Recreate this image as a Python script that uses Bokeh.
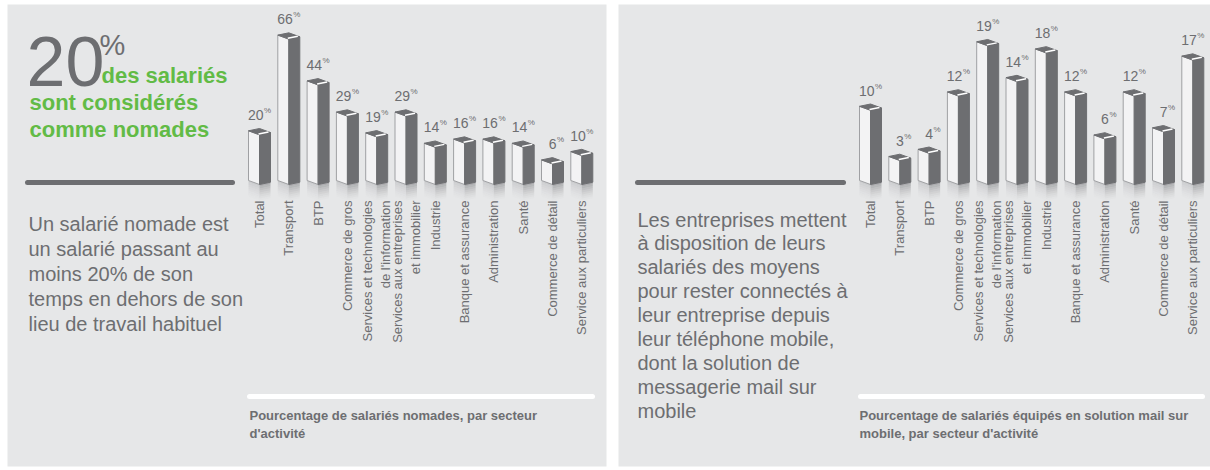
import numpy as np
from bokeh.plotting import figure
from bokeh.models import Range1d
from bokeh.core.properties import value
from bokeh.embed import file_html
from bokeh.resources import INLINE

# ---------------- data ----------------
categories = ["Total", "Transport", "BTP", "Commerce de gros",
              "Services et technologies\nde l'information",
              "Services aux entreprises\net immobilier",
              "Industrie", "Banque et assurance", "Administration", "Santé",
              "Commerce de détail", "Service aux particuliers"]
nomades_values = [20, 66, 44, 29, 19, 29, 14, 16, 16, 14, 6, 10]
mail_values = [10, 3, 4, 12, 19, 14, 18, 12, 6, 12, 7, 17]

headline_number = "20"
headline_unit = "%"
headline_lines = ["des salariés", "sont considérés", "comme nomades"]
left_paragraph = ["Un salarié nomade est", "un salarié passant au", "moins 20% de son",
                  "temps en dehors de son", "lieu de travail habituel"]
right_paragraph = ["Les entreprises mettent", "à disposition de leurs", "salariés des moyens",
                   "pour rester connectés à", "leur entreprise depuis", "leur téléphone mobile,",
                   "dont la solution de", "messagerie mail sur", "mobile"]
left_caption = ["Pourcentage de salariés nomades, par secteur", "d'activité"]
right_caption = ["Pourcentage de salariés équipés en solution mail sur",
                 "mobile, par secteur d'activité"]

# ---------------- style ----------------
FONT = value("Liberation Sans")
GRAY_TXT = "#6d6e71"
BAR_DARK = "#6d6e71"
BAR_FACE = "#f3f3f4"
PANEL = "#e6e7e8"
GREEN = "#62bb46"

X0, X1 = 0, 1210          # page pixels covered by the figure
Y_TOP, Y_BOT = 0, 470
PITCH = 29.3              # px between bars
BASE_PX = 183.0

p = figure(width=X1 - X0, height=Y_BOT - Y_TOP, output_backend="svg",
           toolbar_location=None, min_border=0,
           x_range=Range1d(X0, X1), y_range=Range1d(Y_BOT, Y_TOP),
           x_axis_location=None, y_axis_location=None)
p.grid.grid_line_color = None
p.outline_line_color = None
p.background_fill_color = "white"
p.border_fill_color = "white"

# panels
p.quad(left=[7, 618], right=[606, 1212], top=[4, 4], bottom=[466, 466],
       fill_color=PANEL, line_color=None)


def txt(x, base, t, size, color=GRAY_TXT, style="normal", align="left"):
    # base = alphabetic baseline in page px; text is anchored at its middle
    y = [b - 0.35 * size for b in base]
    p.text(x=x, y=y, text=t, text_font=FONT, text_font_size=f"{size}px",
           text_color=color, text_font_style=style, text_align=align,
           text_baseline="middle")


# ---------- left text block ----------
txt([26], [85], [headline_number], 70)
txt([99], [55], [headline_unit], 29)
txt([101, 29, 29], [83, 110, 137], headline_lines, 22, GREEN, "bold")
p.segment(x0=[27, 637], y0=[182, 182], x1=[232, 843], y1=[182, 182],
          line_color=BAR_DARK, line_width=5, line_cap="round")
txt([28] * len(left_paragraph), [230 + 25.0 * j for j in range(len(left_paragraph))],
    left_paragraph, 20)
txt([637] * len(right_paragraph), [226 + 23.9 * j for j in range(len(right_paragraph))],
    right_paragraph, 20)

# captions + white rules
p.segment(x0=[249, 860], y0=[396, 396], x1=[592, 1202], y1=[396, 396],
          line_color="white", line_width=5, line_cap="round")
txt([249, 249], [420, 438], left_caption, 13, style="bold")
txt([859, 859], [420, 438], right_caption, 13, style="bold")


# ---------- bar charts ----------
def add_chart(key, cats, vals, c0, k, off):
    n = len(cats)
    idx = np.arange(n, dtype=float)
    v = np.asarray(vals, dtype=float)
    v0 = -off / k
    xr, yr = key + "x", key + "y"
    p.extra_x_ranges[xr] = Range1d((X0 - c0) / PITCH, (X1 - c0) / PITCH)
    p.extra_y_ranges[yr] = Range1d(v0 - (Y_BOT - BASE_PX) / k, v0 + (BASE_PX - Y_TOP) / k)

    def X(d):
        return idx + d / PITCH

    def Yt(d):   # d px below the top of each bar
        return v - d / k

    def Yb(d):   # d px below the base
        return np.full(n, v0 - d / k)

    def polys(pts):
        xs = [[float(pt[0][i]) for pt in pts] for i in range(n)]
        ys = [[float(pt[1][i]) for pt in pts] for i in range(n)]
        return xs, ys

    # reflections
    nstr = 8
    for j in range(nstr):
        a = 0.55 * (1 - j / nstr) ** 1.5
        s0, s1 = 1 + j * 2.0, 1 + (j + 1) * 2.0
        xs, ys = polys([(X(-11), Yb(s0 - 4)), (X(0), Yb(s0)), (X(0), Yb(s1)), (X(-11), Yb(s1 - 4))])
        p.patches(xs, ys, fill_color="#b8b9bc", fill_alpha=a, line_color=None,
                  x_range_name=xr, y_range_name=yr)
        xs, ys = polys([(X(0), Yb(s0)), (X(11), Yb(s0 - 2.3)), (X(11), Yb(s1 - 2.3)), (X(0), Yb(s1))])
        p.patches(xs, ys, fill_color="#7d7e81", fill_alpha=a, line_color=None,
                  x_range_name=xr, y_range_name=yr)

    # front face
    xs, ys = polys([(X(-11), Yt(2.3)), (X(0), Yt(6.3)), (X(0), Yb(1)), (X(-11), Yb(-3))])
    p.patches(xs, ys, fill_color=BAR_FACE, line_color="#9fa0a3", line_width=1,
              x_range_name=xr, y_range_name=yr)
    # side face
    xs, ys = polys([(X(0), Yt(6.3)), (X(11), Yt(4)), (X(11), Yb(-1.3)), (X(0), Yb(1))])
    p.patches(xs, ys, fill_color=BAR_DARK, line_color=BAR_DARK, line_width=1,
              x_range_name=xr, y_range_name=yr)
    # top
    xs, ys = polys([(X(0), Yt(0)), (X(11), Yt(4)), (X(0), Yt(6.3)), (X(-11), Yt(2.3))])
    p.patches(xs, ys, fill_color=BAR_DARK, line_color=BAR_DARK, line_width=1,
              x_range_name=xr, y_range_name=yr)
    # highlight
    xs, ys = polys([(X(-1), Yt(5.4)), (X(9), Yt(3.4))])
    p.multi_line(xs, ys, line_color="white", line_width=1.5,
                 x_range_name=xr, y_range_name=yr)

    # value labels (number + small superscript %)
    p.text(x=X(4), y=Yt(-13.5), text=[f"{int(x)}" for x in vals], text_font=FONT,
           text_font_size="14px", text_color=GRAY_TXT, text_align="right",
           text_baseline="middle", x_range_name=xr, y_range_name=yr)
    p.text(x=X(4.5), y=Yt(-18), text=["%"] * n, text_font=FONT,
           text_font_size="8px", text_color=GRAY_TXT, text_align="left",
           text_baseline="middle", x_range_name=xr, y_range_name=yr)

    # category labels (rotated)
    p.text(x=idx, y=[200] * n, text=cats, angle=np.pi / 2, text_font=FONT,
           text_font_size="13px", text_color=GRAY_TXT, text_align="right",
           text_baseline="middle", text_line_height=1.2, x_range_name=xr)


add_chart("l", categories, nomades_values, c0=259.0, k=2.08, off=13.4)
add_chart("r", categories, mail_values, c0=870.0, k=7.17, off=7.8)

open("out.html", "w").write(file_html(p, INLINE))
